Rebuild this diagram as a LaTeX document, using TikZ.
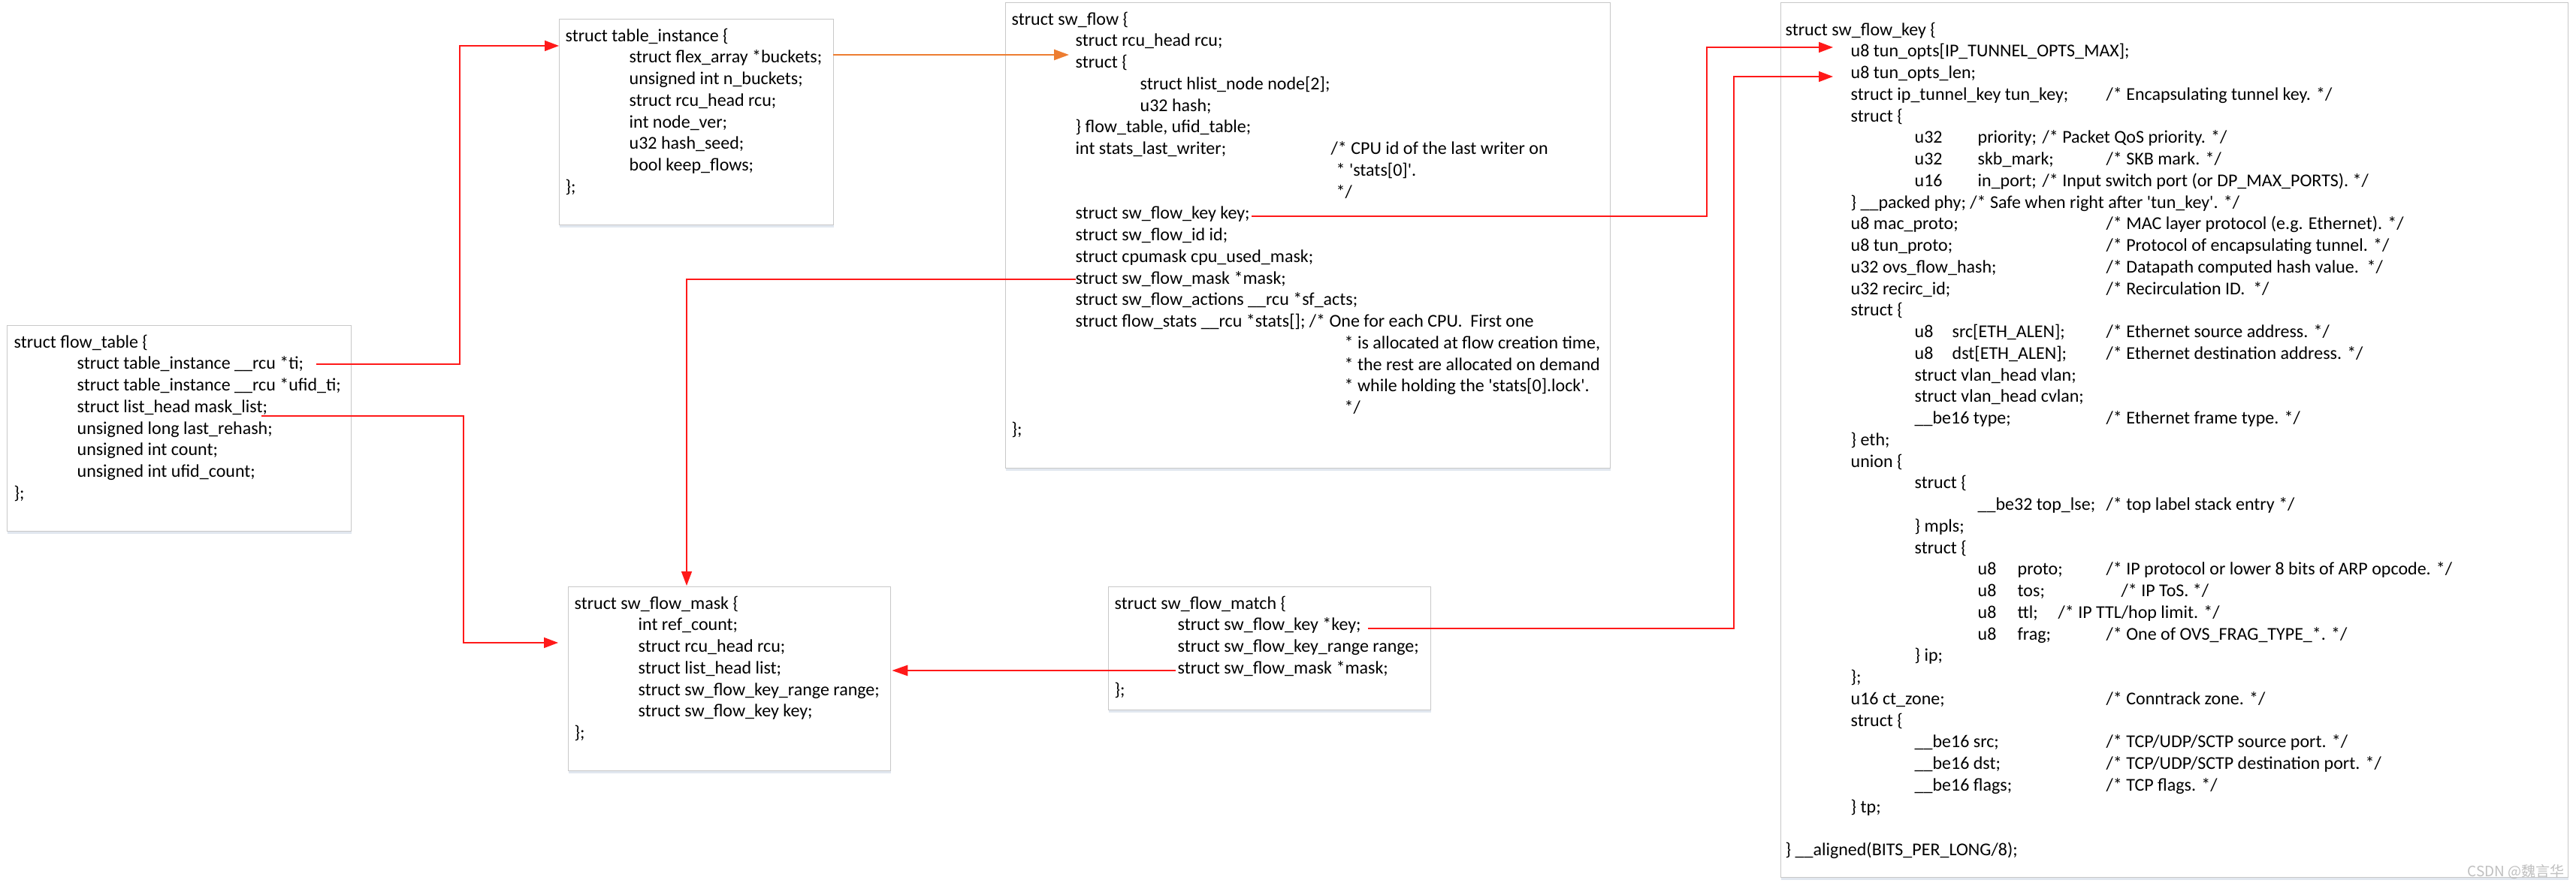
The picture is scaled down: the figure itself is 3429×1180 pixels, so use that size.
\documentclass[tikz,border=0pt]{standalone}
\usepackage{fontspec}
\setmainfont{Carlito}
\newfontfamily\cjk{Noto Sans CJK SC}
\usetikzlibrary{arrows.meta,shadows,calc}

\definecolor{boxline}{RGB}{200,200,200}
\definecolor{boxshade}{RGB}{218,226,236}
\definecolor{linkred}{RGB}{255,25,25}
\definecolor{linkorange}{RGB}{237,125,49}

% text placed at a fixed offset from the left edge of its box
\newcommand\colat[2]{\rlap{\hspace*{#1pt}#2}}
% one source line of fixed height
\newcommand\cl[1]{\leavevmode\rule{0pt}{22pt}#1\par}
% a block of code of given width, height and top gap
\newcommand\code[4]{\parbox[c][#2pt][t]{#1pt}{\fontsize{24pt}{28.75pt}\selectfont
  \parskip=0pt\parindent=0pt\lineskiplimit=-100pt\lineskip=0pt\raggedright
  \vspace*{#3pt}#4}}

\tikzset{
  structbox/.style={draw=boxline, line width=1.3pt, fill=white, inner sep=0pt,
    anchor=north west,
    drop shadow={shadow xshift=0.5pt, shadow yshift=-3.5pt, fill=boxshade, opacity=0.8}},
  link/.style={draw=linkred, line width=1.5pt, -{Triangle[length=19pt,width=14pt]}},
  thicklink/.style={link, line width=2.6pt, -{Triangle[length=21pt,width=14pt]}},
  orangelink/.style={draw=linkorange, line width=2.4pt,
    -{Triangle[length=20pt,width=14pt,fill=linkorange]}},
}

\begin{document}
\begin{tikzpicture}[x=1pt,y=-1pt]
\path[use as bounding box, fill=white] (0,0) rectangle (3429,1180);

% struct flow_table
\node[structbox] (ft) at (9,433) {\code{458}{274}{7.5}{%
\cl{\colat{9}{struct flow\_table \{}}
\cl{\colat{93}{struct table\_instance \_\_rcu *ti;}}
\cl{\colat{93}{struct table\_instance \_\_rcu *ufid\_ti;}}
\cl{\colat{93}{struct list\_head mask\_list;}}
\cl{\colat{93}{unsigned long last\_rehash;}}
\cl{\colat{93}{unsigned int count;}}
\cl{\colat{93}{unsigned int ufid\_count;}}
\cl{\colat{9}{\};}}
}};

% struct table_instance
\node[structbox] (ti) at (744,25) {\code{365}{274}{7.5}{%
\cl{\colat{8}{struct table\_instance \{}}
\cl{\colat{93}{struct flex\_array *buckets;}}
\cl{\colat{93}{unsigned int n\_buckets;}}
\cl{\colat{93}{struct rcu\_head rcu;}}
\cl{\colat{93}{int node\_ver;}}
\cl{\colat{93}{u32 hash\_seed;}}
\cl{\colat{93}{bool keep\_flows;}}
\cl{\colat{8}{\};}}
}};

% struct sw_flow
\node[structbox] (sf) at (1338,3) {\code{805}{620}{7.5}{%
\cl{\colat{8}{struct sw\_flow \{}}
\cl{\colat{93}{struct rcu\_head rcu;}}
\cl{\colat{93}{struct \{}}
\cl{\colat{179}{struct hlist\_node node[2];}}
\cl{\colat{179}{u32 hash;}}
\cl{\colat{93}{\} flow\_table, ufid\_table;}}
\cl{\colat{93}{int stats\_last\_writer;}\colat{433}{/* CPU id of the last writer on}}
\cl{\colat{440}{* \textquotesingle stats[0]\textquotesingle.}}
\cl{\colat{440}{*/}}
\cl{\colat{93}{struct sw\_flow\_key key;}}
\cl{\colat{93}{struct sw\_flow\_id id;}}
\cl{\colat{93}{struct cpumask cpu\_used\_mask;}}
\cl{\colat{93}{struct sw\_flow\_mask *mask;}}
\cl{\colat{93}{struct sw\_flow\_actions \_\_rcu *sf\_acts;}}
\cl{\colat{93}{struct flow\_stats \_\_rcu *stats[]; /* One for each CPU.\ \ First one}}
\cl{\colat{451}{* is allocated at flow creation time,}}
\cl{\colat{451}{* the rest are allocated on demand}}
\cl{\colat{451}{* while holding the \textquotesingle stats[0].lock\textquotesingle.}}
\cl{\colat{451}{*/}}
\cl{\colat{8}{\};}}
}};

% struct sw_flow_key
\node[structbox] (key) at (2370,3) {\code{1048}{1165}{21.5}{%
\cl{\colat{6}{struct sw\_flow\_key \{}}
\cl{\colat{93}{u8 tun\_opts[IP\_TUNNEL\_OPTS\_MAX];}}
\cl{\colat{93}{u8 tun\_opts\_len;}}
\cl{\colat{93}{struct ip\_tunnel\_key tun\_key;}\colat{433}{/* Encapsulating tunnel key. */}}
\cl{\colat{93}{struct \{}}
\cl{\colat{178}{u32}\colat{262}{priority;}\colat{348}{/* Packet QoS priority. */}}
\cl{\colat{178}{u32}\colat{262}{skb\_mark;}\colat{433}{/* SKB mark. */}}
\cl{\colat{178}{u16}\colat{262}{in\_port;}\colat{348}{/* Input switch port (or DP\_MAX\_PORTS). */}}
\cl{\colat{93}{\} \_\_packed phy; /* Safe when right after \textquotesingle tun\_key\textquotesingle. */}}
\cl{\colat{93}{u8 mac\_proto;}\colat{433}{/* MAC layer protocol (e.g. Ethernet). */}}
\cl{\colat{93}{u8 tun\_proto;}\colat{433}{/* Protocol of encapsulating tunnel. */}}
\cl{\colat{93}{u32 ovs\_flow\_hash;}\colat{433}{/* Datapath computed hash value.\ \ */}}
\cl{\colat{93}{u32 recirc\_id;}\colat{433}{/* Recirculation ID.\ \ */}}
\cl{\colat{93}{struct \{}}
\cl{\colat{178}{u8}\colat{228}{src[ETH\_ALEN];}\colat{433}{/* Ethernet source address. */}}
\cl{\colat{178}{u8}\colat{228}{dst[ETH\_ALEN];}\colat{433}{/* Ethernet destination address. */}}
\cl{\colat{178}{struct vlan\_head vlan;}}
\cl{\colat{178}{struct vlan\_head cvlan;}}
\cl{\colat{178}{\_\_be16 type;}\colat{433}{/* Ethernet frame type. */}}
\cl{\colat{93}{\} eth;}}
\cl{\colat{93}{union \{}}
\cl{\colat{178}{struct \{}}
\cl{\colat{262}{\_\_be32 top\_lse;}\colat{433}{/* top label stack entry */}}
\cl{\colat{178}{\} mpls;}}
\cl{\colat{178}{struct \{}}
\cl{\colat{262}{u8}\colat{315}{proto;}\colat{433}{/* IP protocol or lower 8 bits of ARP opcode. */}}
\cl{\colat{262}{u8}\colat{315}{tos;}\colat{453}{/* IP ToS. */}}
\cl{\colat{262}{u8}\colat{315}{ttl;}\colat{369}{/* IP TTL/hop limit. */}}
\cl{\colat{262}{u8}\colat{315}{frag;}\colat{433}{/* One of OVS\_FRAG\_TYPE\_*. */}}
\cl{\colat{178}{\} ip;}}
\cl{\colat{93}{\};}}
\cl{\colat{93}{u16 ct\_zone;}\colat{433}{/* Conntrack zone. */}}
\cl{\colat{93}{struct \{}}
\cl{\colat{178}{\_\_be16 src;}\colat{433}{/* TCP/UDP/SCTP source port. */}}
\cl{\colat{178}{\_\_be16 dst;}\colat{433}{/* TCP/UDP/SCTP destination port. */}}
\cl{\colat{178}{\_\_be16 flags;}\colat{433}{/* TCP flags. */}}
\cl{\colat{93}{\} tp;}}
\cl{}
\cl{\colat{6}{\} \_\_aligned(BITS\_PER\_LONG/8);}}
}};

% struct sw_flow_mask
\node[structbox] (mk) at (756,781) {\code{429}{245}{7.5}{%
\cl{\colat{8}{struct sw\_flow\_mask \{}}
\cl{\colat{93}{int ref\_count;}}
\cl{\colat{93}{struct rcu\_head rcu;}}
\cl{\colat{93}{struct list\_head list;}}
\cl{\colat{93}{struct sw\_flow\_key\_range range;}}
\cl{\colat{93}{struct sw\_flow\_key key;}}
\cl{\colat{8}{\};}}
}};

% struct sw_flow_match
\node[structbox] (mt) at (1475,781) {\code{429}{164}{7.5}{%
\cl{\colat{8}{struct sw\_flow\_match \{}}
\cl{\colat{92}{struct sw\_flow\_key *key;}}
\cl{\colat{92}{struct sw\_flow\_key\_range range;}}
\cl{\colat{92}{struct sw\_flow\_mask *mask;}}
\cl{\colat{8}{\};}}
}};

% field anchors for the pointers
\coordinate (ft-ti)    at ($(ft.north west)+(412,52)$);
\coordinate (ft-ml)    at ($(ft.north west)+(339,121)$);
\coordinate (ti-in)    at ($(ti.north west)+(0,36)$);
\coordinate (ti-bk)    at ($(ti.north east)+(-1,48)$);
\coordinate (sf-st)    at ($(sf.north west)+(85,70)$);
\coordinate (sf-key)   at ($(sf.north west)+(328,285)$);
\coordinate (sf-mask)  at ($(sf.north west)+(94,369)$);
\coordinate (key-opts) at ($(key.north west)+(70,60)$);
\coordinate (key-len)  at ($(key.north west)+(70,99)$);
\coordinate (mk-top)   at ($(mk.north west)+(158,-1)$);
\coordinate (mk-left)  at ($(mk.north west)+(-13,75)$);
\coordinate (mk-right) at ($(mk.north east)+(1,112)$);
\coordinate (mt-key)   at ($(mt.north west)+(346,56)$);
\coordinate (mt-mask)  at ($(mt.north west)+(90,112)$);

% pointers
\draw[link] (ft-ti) -- ++(191,0) |- (ti-in);
\draw[link] (ft-ml) -- ++(269,0) |- (mk-left);
\draw[orangelink] (ti-bk) -- (sf-st);
\draw[link] (sf-key) -- ++(606,0) |- (key-opts);
\draw[link] (sf-mask) -| (mk-top);
\draw[link] (mt-key) -- ++(487,0) |- (key-len);
\draw[thicklink] (mt-mask) -- (mk-right);

% watermark
\node[font=\cjk\fontsize{19pt}{22pt}\selectfont, text=gray!50, anchor=east, inner sep=0pt]
  (wm) at (3414,1161) {CSDN @魏言华};
\end{tikzpicture}
\end{document}
